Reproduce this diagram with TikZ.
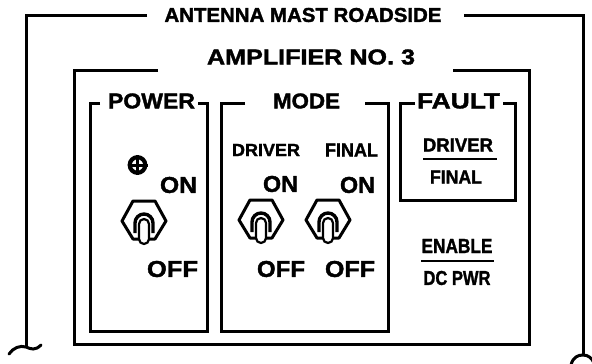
\documentclass[tikz,border=0pt]{standalone}
\usepackage{fontspec}
\setmainfont{Liberation Sans}
\newfontfamily\heavyfont[FakeBold=1.6]{Liberation Sans Bold}
\usepackage{graphicx}
\newcommand{\rzlab}[3]{\resizebox{#1pt}{#2pt}{\heavyfont #3}}
\tikzset{
  frame/.style={line width=3pt, line join=miter, line cap=butt},
  lab/.style={inner sep=0pt, outer sep=0pt, anchor=center},
  toggle/.pic={
    \draw[line width=3pt, line join=round] (-22,0)--(-11,-20)--(11,-20)--(22,0)--(11,18)--(-11,18)--cycle;
    \draw[line width=3.4pt] (-9,12) -- (-9,2) arc (180:360:9) -- (9,12);
    \draw[line width=2.2pt, fill=white] (-5,18) -- (-5,3) arc (180:360:5) -- (5,18) arc (0:180:5) -- cycle;
  }
}
\begin{document}
\begin{tikzpicture}[x=1pt,y=-1pt]
\useasboundingbox (0,0) rectangle (592,364);
\fill[white] (0,0) rectangle (592,364);
% outer frame
\draw[frame] (147,15) -| (26,346);
\draw[frame] (464,15) -| (583,355);
\draw[line width=3pt, line cap=round] (9,354) .. controls (13,348) and (20,345) .. (26,347) .. controls (31,349) and (35,351) .. (41,345);
\draw[line width=3pt] (571,365) .. controls (573,357) and (578,355) .. (583,355) .. controls (588,355) and (592,358) .. (594,363);
\node[lab] (tAnt) at (303,15) {\rzlab{277}{14}{ANTENNA MAST ROADSIDE}};
% amplifier frame
\draw[frame] (158,70) -| (74,344) -| (529,70) -- (453,70);
\node[lab] (tAmp) at (311,57) {\rzlab{208}{15}{AMPLIFIER NO. 3}};
% power box
\draw[frame] (100,103) -| (90,331) -| (207,103) -- (198,103);
\node[lab] (tPow) at (151.5,101) {\rzlab{87}{15}{POWER}};
\draw[line width=4.2pt] (137.5,165) circle (7.8);
\draw[line width=3pt] (137.5,155) -- (137.5,175) (127.5,165) -- (147.5,165);
\node[lab] (pOn) at (178.5,185) {\rzlab{37}{16}{ON}};
\pic at (144,221) {toggle};
\node[lab] (pOff) at (172.5,269) {\rzlab{51}{16}{OFF}};
% mode box
\draw[frame] (245,103) -| (221,331) -| (388,103) -- (365,103);
\node[lab] (tMode) at (306.5,101) {\rzlab{67}{15}{MODE}};
\node[lab] (mDrv) at (266,150) {\rzlab{68}{12}{DRIVER}};
\node[lab] (mFin) at (351.5,150) {\rzlab{53}{13}{FINAL}};
\node[lab] (mOn1) at (280.5,184) {\rzlab{35}{16}{ON}};
\node[lab] (mOn2) at (357.5,185) {\rzlab{35}{16}{ON}};
\pic at (261,220) {toggle};
\pic at (328,220) {toggle};
\node[lab] (mOff1) at (281,269) {\rzlab{48}{16}{OFF}};
\node[lab] (mOff2) at (350,269) {\rzlab{50}{16}{OFF}};
% fault box
\draw[frame] (415,103) -| (400,200) -| (515,103) -- (503,103);
\node[lab] (tFault) at (458.5,101) {\rzlab{83}{15}{FAULT}};
\node[lab] (fDrv) at (458,145) {\rzlab{70}{13}{DRIVER}};
\draw[line width=2.2pt] (423,159) -- (497,159);
\node[lab] (fFin) at (456,177) {\rzlab{52}{13}{FINAL}};
% enable / dc pwr
\node[lab] (eEn) at (457,246) {\rzlab{71}{14}{ENABLE}};
\draw[line width=2.2pt] (421,261) -- (494,261);
\node[lab] (eDc) at (457,278) {\rzlab{67}{14}{DC PWR}};
\end{tikzpicture}
\end{document}
